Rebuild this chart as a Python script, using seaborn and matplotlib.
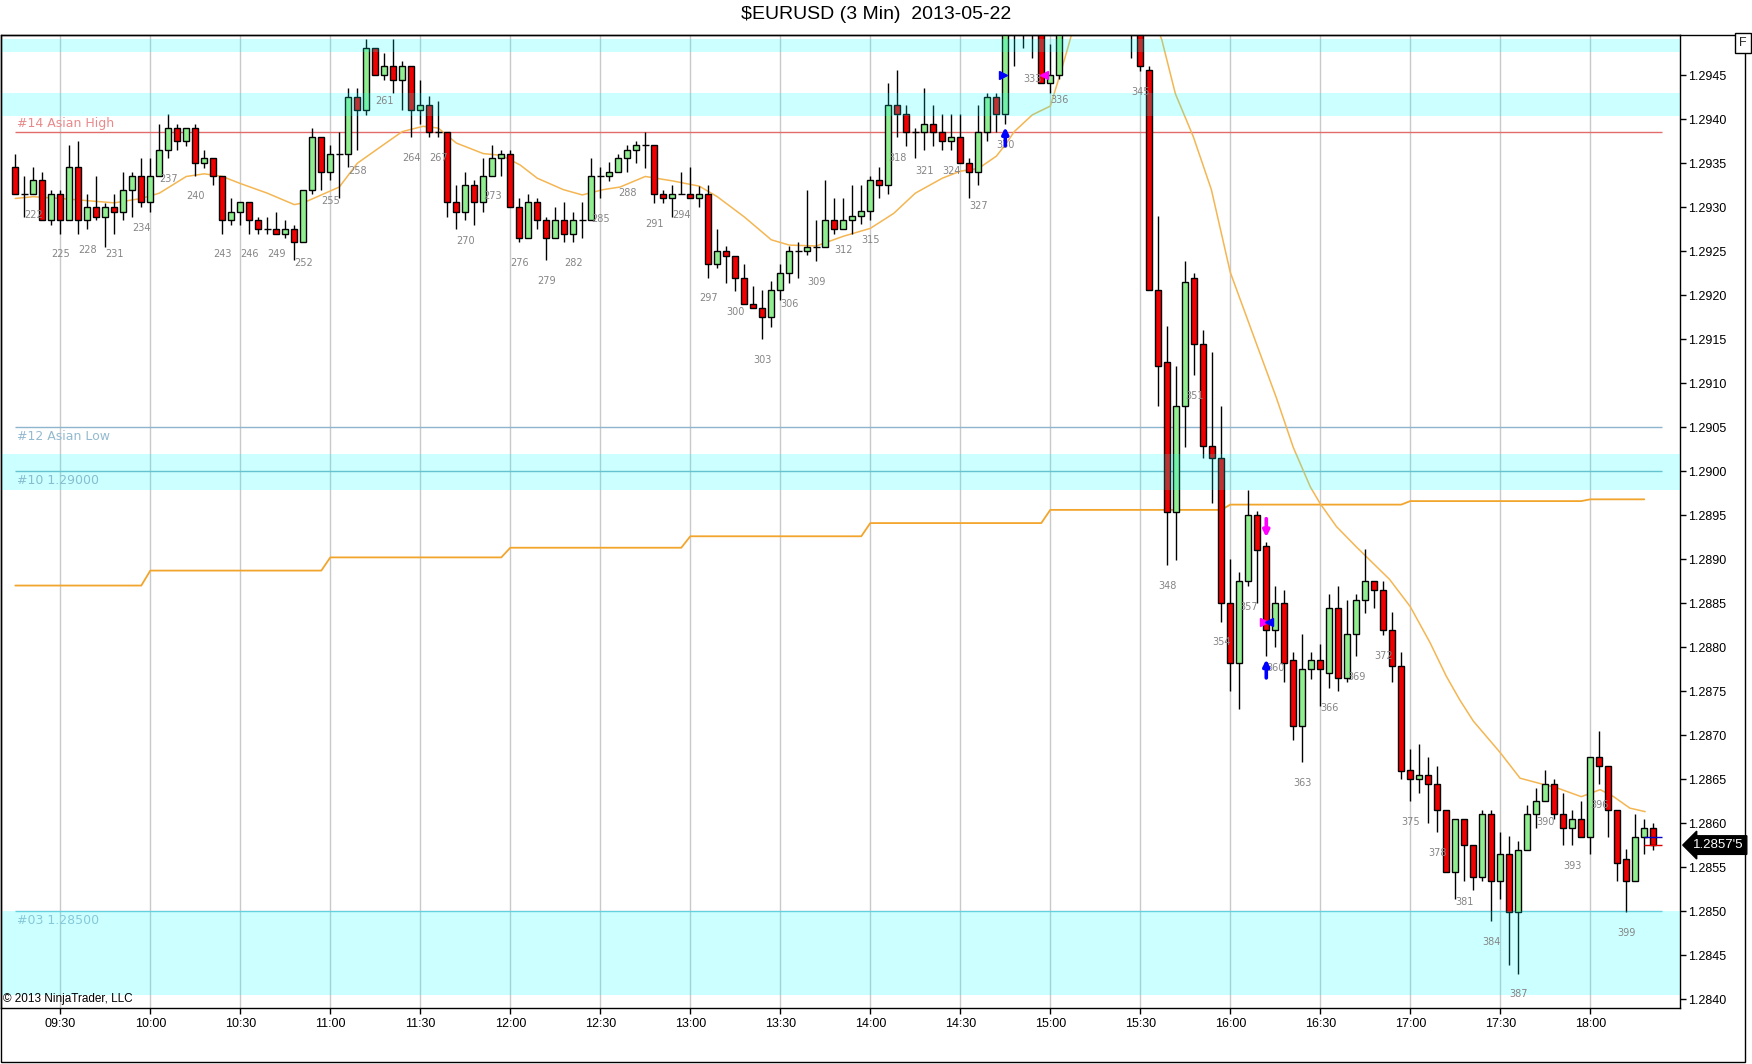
import numpy as np
import pandas as pd
import matplotlib
matplotlib.use('Agg')
import matplotlib.pyplot as plt
import matplotlib.transforms as mtransforms
from matplotlib.patches import Rectangle
import seaborn as sns

# ---- data (3 min bars, bar 225 = 09:30) ----
first_bar = 220
opens = [1.29346, 1.29315, 1.29315, 1.29331, 1.29285, 1.29315, 1.29285, 1.29346, 1.29285, 1.29300,
         1.29289, 1.29300, 1.29295, 1.29320, 1.29336, 1.29306, 1.29336, 1.29365, 1.29390, 1.29375,
         1.29390, 1.29350, 1.29356, 1.29336, 1.29285, 1.29295, 1.29306, 1.29285, 1.29275, 1.29275,
         1.29270, 1.29275, 1.29260, 1.29320, 1.29380, 1.29340, 1.29360, 1.29360, 1.29425, 1.29411,
         1.29481, 1.29450, 1.29461, 1.29445, 1.29461, 1.29411, 1.29416, 1.29385, 1.29385, 1.29306,
         1.29295, 1.29325, 1.29306, 1.29336, 1.29356, 1.29360, 1.29300, 1.29265, 1.29306, 1.29285,
         1.29265, 1.29285, 1.29270, 1.29285, 1.29285, 1.29336, 1.29336, 1.29340, 1.29356, 1.29365,
         1.29371, 1.29371, 1.29315, 1.29310, 1.29315, 1.29315, 1.29310, 1.29315, 1.29235, 1.29250,
         1.29245, 1.29220, 1.29190, 1.29185, 1.29175, 1.29206, 1.29225, 1.29250, 1.29250, 1.29255,
         1.29255, 1.29286, 1.29275, 1.29286, 1.29290, 1.29296, 1.29331, 1.29325, 1.29416, 1.29406,
         1.29385, 1.29385, 1.29395, 1.29385, 1.29375, 1.29380, 1.29350, 1.29340, 1.29385, 1.29425,
         1.29406, 1.29520, 1.29545, 1.29497, 1.29540, 1.29441, 1.29450, 1.29540, 1.29580, 1.29600,
         1.29590, 1.29570, 1.29560, 1.29550, 1.29530, 1.29510, 1.29456, 1.29206, 1.29124, 1.28954,
         1.29074, 1.29220, 1.29145, 1.29029, 1.29015, 1.28850, 1.28782, 1.28875, 1.28950, 1.28915,
         1.28820, 1.28850, 1.28785, 1.28710, 1.28775, 1.28785, 1.28771, 1.28844, 1.28765, 1.28815,
         1.28854, 1.28875, 1.28865, 1.28819, 1.28779, 1.28660, 1.28650, 1.28655, 1.28644, 1.28615,
         1.28544, 1.28605, 1.28575, 1.28539, 1.28610, 1.28534, 1.28565, 1.28499, 1.28569, 1.28610,
         1.28625, 1.28644, 1.28610, 1.28594, 1.28605, 1.28584, 1.28675, 1.28665, 1.28615, 1.28559,
         1.28534, 1.28584, 1.28594]
highs = [1.29361, 1.29336, 1.29346, 1.29340, 1.29320, 1.29320, 1.29371, 1.29375, 1.29315, 1.29336,
         1.29305, 1.29315, 1.29340, 1.29340, 1.29356, 1.29356, 1.29395, 1.29406, 1.29395, 1.29390,
         1.29395, 1.29365, 1.29356, 1.29336, 1.29310, 1.29306, 1.29306, 1.29289, 1.29289, 1.29295,
         1.29285, 1.29280, 1.29320, 1.29390, 1.29380, 1.29371, 1.29386, 1.29435, 1.29435, 1.29491,
         1.29481, 1.29475, 1.29491, 1.29466, 1.29461, 1.29445, 1.29426, 1.29421, 1.29385, 1.29325,
         1.29340, 1.29331, 1.29356, 1.29371, 1.29365, 1.29365, 1.29310, 1.29315, 1.29310, 1.29289,
         1.29300, 1.29306, 1.29295, 1.29306, 1.29356, 1.29346, 1.29351, 1.29361, 1.29371, 1.29375,
         1.29385, 1.29371, 1.29320, 1.29325, 1.29340, 1.29346, 1.29324, 1.29325, 1.29275, 1.29256,
         1.29245, 1.29235, 1.29211, 1.29206, 1.29216, 1.29235, 1.29256, 1.29260, 1.29320, 1.29286,
         1.29331, 1.29310, 1.29310, 1.29325, 1.29325, 1.29335, 1.29346, 1.29441, 1.29456, 1.29416,
         1.29390, 1.29435, 1.29416, 1.29406, 1.29406, 1.29406, 1.29356, 1.29416, 1.29430, 1.29430,
         1.29540, 1.29560, 1.29575, 1.29560, 1.29550, 1.29486, 1.29560, 1.29590, 1.29620, 1.29640,
         1.29610, 1.29600, 1.29590, 1.29570, 1.29560, 1.29530, 1.29460, 1.29290, 1.29165, 1.29120,
         1.29239, 1.29225, 1.29160, 1.29135, 1.29074, 1.28900, 1.28885, 1.28979, 1.28955, 1.28920,
         1.28870, 1.28865, 1.28795, 1.28815, 1.28794, 1.28804, 1.28860, 1.28870, 1.28854, 1.28860,
         1.28911, 1.28875, 1.28875, 1.28840, 1.28794, 1.28684, 1.28690, 1.28675, 1.28665, 1.28615,
         1.28605, 1.28605, 1.28575, 1.28615, 1.28615, 1.28590, 1.28585, 1.28580, 1.28621, 1.28640,
         1.28660, 1.28650, 1.28634, 1.28615, 1.28625, 1.28675, 1.28705, 1.28665, 1.28615, 1.28570,
         1.28610, 1.28605, 1.28600]
lows = [1.29315, 1.29289, 1.29315, 1.29285, 1.29280, 1.29270, 1.29285, 1.29270, 1.29275, 1.29285,
        1.29255, 1.29270, 1.29285, 1.29289, 1.29300, 1.29295, 1.29336, 1.29356, 1.29365, 1.29370,
        1.29336, 1.29345, 1.29325, 1.29270, 1.29280, 1.29280, 1.29270, 1.29270, 1.29270, 1.29270,
        1.29265, 1.29240, 1.29260, 1.29315, 1.29320, 1.29331, 1.29310, 1.29346, 1.29365, 1.29405,
        1.29450, 1.29445, 1.29430, 1.29411, 1.29380, 1.29395, 1.29380, 1.29380, 1.29289, 1.29275,
        1.29285, 1.29280, 1.29295, 1.29336, 1.29335, 1.29300, 1.29260, 1.29265, 1.29275, 1.29240,
        1.29265, 1.29260, 1.29260, 1.29265, 1.29285, 1.29310, 1.29330, 1.29340, 1.29340, 1.29350,
        1.29345, 1.29305, 1.29305, 1.29289, 1.29315, 1.29310, 1.29300, 1.29220, 1.29231, 1.29214,
        1.29205, 1.29190, 1.29185, 1.29150, 1.29164, 1.29195, 1.29214, 1.29220, 1.29246, 1.29239,
        1.29255, 1.29270, 1.29275, 1.29270, 1.29281, 1.29286, 1.29310, 1.29315, 1.29380, 1.29370,
        1.29356, 1.29365, 1.29370, 1.29365, 1.29365, 1.29350, 1.29310, 1.29325, 1.29375, 1.29385,
        1.29395, 1.29460, 1.29481, 1.29470, 1.29441, 1.29430, 1.29446, 1.29520, 1.29560, 1.29570,
        1.29550, 1.29540, 1.29530, 1.29510, 1.29470, 1.29455, 1.29206, 1.29074, 1.28893, 1.28899,
        1.29028, 1.29109, 1.29015, 1.28964, 1.28829, 1.28750, 1.28730, 1.28869, 1.28850, 1.28790,
        1.28800, 1.28760, 1.28695, 1.28669, 1.28764, 1.28733, 1.28754, 1.28750, 1.28760, 1.28790,
        1.28839, 1.28844, 1.28814, 1.28760, 1.28650, 1.28625, 1.28634, 1.28600, 1.28590, 1.28544,
        1.28514, 1.28534, 1.28524, 1.28534, 1.28489, 1.28514, 1.28439, 1.28429, 1.28569, 1.28594,
        1.28625, 1.28605, 1.28575, 1.28575, 1.28584, 1.28565, 1.28644, 1.28584, 1.28534, 1.28499,
        1.28534, 1.28565, 1.28569]
closes = [1.29315, 1.29315, 1.29331, 1.29285, 1.29315, 1.29285, 1.29346, 1.29285, 1.29300, 1.29289,
          1.29300, 1.29295, 1.29320, 1.29336, 1.29306, 1.29336, 1.29365, 1.29390, 1.29375, 1.29390,
          1.29350, 1.29356, 1.29336, 1.29285, 1.29295, 1.29306, 1.29285, 1.29275, 1.29275, 1.29270,
          1.29275, 1.29260, 1.29320, 1.29380, 1.29340, 1.29360, 1.29360, 1.29425, 1.29411, 1.29481,
          1.29450, 1.29461, 1.29445, 1.29461, 1.29411, 1.29416, 1.29385, 1.29385, 1.29306, 1.29295,
          1.29325, 1.29306, 1.29336, 1.29356, 1.29360, 1.29300, 1.29265, 1.29306, 1.29285, 1.29265,
          1.29285, 1.29270, 1.29285, 1.29285, 1.29336, 1.29336, 1.29340, 1.29356, 1.29365, 1.29371,
          1.29371, 1.29315, 1.29310, 1.29315, 1.29315, 1.29310, 1.29315, 1.29235, 1.29250, 1.29245,
          1.29220, 1.29190, 1.29185, 1.29175, 1.29206, 1.29225, 1.29250, 1.29250, 1.29255, 1.29255,
          1.29286, 1.29275, 1.29286, 1.29290, 1.29296, 1.29331, 1.29325, 1.29416, 1.29406, 1.29385,
          1.29385, 1.29395, 1.29385, 1.29375, 1.29380, 1.29350, 1.29340, 1.29385, 1.29425, 1.29406,
          1.29520, 1.29545, 1.29497, 1.29540, 1.29441, 1.29450, 1.29540, 1.29580, 1.29600, 1.29590,
          1.29570, 1.29560, 1.29550, 1.29530, 1.29510, 1.29461, 1.29206, 1.29120, 1.28954, 1.29074,
          1.29215, 1.29145, 1.29029, 1.29015, 1.28850, 1.28782, 1.28875, 1.28950, 1.28910, 1.28820,
          1.28850, 1.28782, 1.28710, 1.28775, 1.28785, 1.28775, 1.28844, 1.28765, 1.28815, 1.28854,
          1.28875, 1.28865, 1.28819, 1.28779, 1.28659, 1.28650, 1.28655, 1.28644, 1.28615, 1.28544,
          1.28605, 1.28575, 1.28539, 1.28610, 1.28534, 1.28565, 1.28499, 1.28569, 1.28610, 1.28625,
          1.28644, 1.28610, 1.28594, 1.28605, 1.28584, 1.28675, 1.28665, 1.28615, 1.28555, 1.28534,
          1.28584, 1.28594, 1.28575]

# moving average, read at points (bar, price)
ma_bars = [220, 222, 225, 231, 234, 236, 239, 241, 243, 245, 248, 251, 252, 254, 256, 258, 260.9, 263,
           265.3, 267, 269, 272, 274, 276.1, 278, 280.9, 283, 285.3, 287.2, 290, 293, 296, 298, 301, 304,
           306, 309, 312, 315, 317.6, 320, 323, 325, 327, 329, 330, 331, 333, 335, 336, 337, 338, 339,
           340, 341, 342, 343, 344, 345, 346, 347.4, 348.9, 350.9, 352.9, 355, 357.9, 360.1, 362, 363.9,
           365, 366.8, 369, 370.5, 372.7, 375, 377.2, 379, 380.5, 382, 385, 387.2, 389.4, 391.3, 394,
           396.1, 397.6, 399.4, 401.1]
ma_vals = [1.29310, 1.29312, 1.29310, 1.29305, 1.29310, 1.29316, 1.29335, 1.29338, 1.29335, 1.29327,
           1.29316, 1.29303, 1.29305, 1.29314, 1.29323, 1.29350, 1.29371, 1.29386, 1.29392, 1.29390,
           1.29373, 1.29361, 1.29359, 1.29348, 1.29333, 1.29320, 1.29314, 1.29320, 1.29323, 1.29335,
           1.29330, 1.29324, 1.29312, 1.29289, 1.29263, 1.29257, 1.29256, 1.29267, 1.29276, 1.29293,
           1.29316, 1.29333, 1.29341, 1.29344, 1.29358, 1.29371, 1.29386, 1.29405, 1.29415, 1.29448,
           1.29483, 1.29520, 1.29550, 1.29570, 1.29580, 1.29590, 1.29590, 1.29580, 1.29560, 1.29530,
           1.29490, 1.29429, 1.29380, 1.29320, 1.29226, 1.29145, 1.29084, 1.29027, 1.28982, 1.28963,
           1.28937, 1.28914, 1.28899, 1.28877, 1.28846, 1.28805, 1.28767, 1.28740, 1.28716, 1.28680,
           1.28651, 1.28645, 1.28640, 1.28630, 1.28638, 1.28630, 1.28617, 1.28613]

# stepped orange line: level starting at bar
step_starts = [220, 235, 255, 275, 295, 315, 335, 355, 375, 395]
step_levels = [1.28870, 1.28887, 1.28902, 1.28913, 1.28926, 1.28941, 1.28956, 1.28962, 1.28966, 1.28968]
step_end = 401

# zones and levels
bands = [(1.29477, 1.29491), (1.29404, 1.29430), (1.28979, 1.29020), (1.28405, 1.28500)]
level_prices = [1.29385, 1.29050, 1.29000, 1.28500]
level_texts = ['#14 Asian High', '#12 Asian Low', '#10 1.29000', '#03 1.28500']
level_colors = ['#E26C6C', '#8DB5CD', '#7DB3C6', '#7CC6D8']
level_text_colors = ['#E88A8C', '#94BAD1', '#86BDD0', '#86C8DA']

tick_bars = [225, 235, 245, 255, 265, 275, 285, 295, 305, 315, 325, 335, 345, 355, 365, 375, 385, 395]
time_labels = ['09:30', '10:00', '10:30', '11:00', '11:30', '12:00', '12:30', '13:00', '13:30',
               '14:00', '14:30', '15:00', '15:30', '16:00', '16:30', '17:00', '17:30', '18:00']
label_bars = list(range(222, 400, 3))
last_price = 1.28575
last_price_text = "1.2857'5"


def main():
    sns.set_theme(style='white')
    plt.rcParams['font.family'] = ['Liberation Sans', 'DejaVu Sans']

    W, H = 1752, 1064
    fig = plt.figure(figsize=(W / 100, H / 100), dpi=100)
    ax = fig.add_axes([1 / W, (H - 1008) / H, 1679 / W, (1008 - 35) / H])
    ax.set_xlim(218.41, 404.97)
    ax.set_ylim(1.283898, 1.294958)

    df = pd.DataFrame({'bar': np.arange(first_bar, first_bar + len(opens)),
                       'open': opens, 'high': highs, 'low': lows, 'close': closes})

    # vertical grid every 30 min
    for b in tick_bars:
        ax.axvline(b, color='#C9C9C9', lw=1, zorder=0)

    # level lines
    for p, c in zip(level_prices, level_colors):
        ax.hlines(p, 220, 403, color=c, lw=1, zorder=2)

    # stepped line and moving average
    step_bars = list(range(first_bar, step_end + 1))
    step_vals = [step_levels[np.searchsorted(step_starts, b, side='right') - 1] for b in step_bars]
    sns.lineplot(x=step_bars, y=step_vals, ax=ax, color='#F2A52C', lw=1.3, zorder=2)
    sns.lineplot(x=ma_bars, y=ma_vals, ax=ax, color='#F4B652', lw=1.1, sort=False,
                 estimator=None, zorder=2)

    # candles
    ax.vlines(df['bar'], df['low'], df['high'], color='black', lw=1, zorder=3)
    body_lo = np.minimum(df['open'], df['close'])
    body_h = (df['close'] - df['open']).abs()
    colors = np.where(df['close'] >= df['open'], '#90EE90', '#F00000')
    solid = body_h > 0
    ax.bar(df['bar'][solid], body_h[solid], bottom=body_lo[solid], width=0.66,
           color=colors[solid], edgecolor='black', linewidth=1, zorder=4)
    doji = ~solid
    ax.hlines(df['close'][doji], df['bar'][doji] - 0.36, df['bar'][doji] + 0.36,
              color='black', lw=1, zorder=4)

    # translucent zones on top
    for lo, hi in bands:
        ax.axhspan(lo, hi, color='#00FFFF', alpha=0.2, lw=0, zorder=5)

    # level texts
    for p, t, c in zip(level_prices, level_texts, level_text_colors):
        if t.startswith('#14'):
            ax.annotate(t, xy=(220.2, p), xytext=(0, 2), textcoords='offset points',
                        ha='left', va='bottom', color=c, fontsize=9, family='DejaVu Sans', zorder=6)
        else:
            ax.annotate(t, xy=(220.2, p), xytext=(0, -2), textcoords='offset points',
                        ha='left', va='top', color=c, fontsize=9, family='DejaVu Sans', zorder=6)

    # bar numbers under the lows
    low_of = dict(zip(df['bar'], df['low']))
    for b in label_bars:
        ax.annotate(str(b), xy=(b, low_of[b]), xytext=(0, -15), textcoords='offset points',
                    ha='center', va='center', fontsize=7, color='#858585',
                    family='DejaVu Sans', annotation_clip=True, zorder=6)

    # trade markers
    arrow = dict(arrowstyle='-|>', lw=2.6, mutation_scale=9, shrinkA=0, shrinkB=0)
    ax.annotate('', xy=(330, 1.29391), xytext=(330, 1.29370),
                arrowprops=dict(arrow, color='#0000FF'), zorder=7)
    ax.annotate('', xy=(359, 1.28786), xytext=(359, 1.28765),
                arrowprops=dict(arrow, color='#0000FF'), zorder=7)
    ax.annotate('', xy=(359, 1.28925), xytext=(359, 1.28946),
                arrowprops=dict(arrow, color='#FF00FF'), zorder=7)
    ax.plot([329.7], [1.29450], marker='>', ms=6, color='#0000FF', ls='none', zorder=7)
    ax.plot([334.3], [1.29450], marker='<', ms=6, color='#FF00FF', ls='none', zorder=7)
    ax.plot([358.7], [1.28829], marker='>', ms=6, color='#FF00FF', ls='none', zorder=7)
    ax.plot([359.3], [1.28829], marker='<', ms=6, color='#0000FF', ls='none', zorder=7)
    ax.hlines(1.28584, 401, 403, color='#0000CC', lw=1, zorder=7)
    ax.hlines(1.28575, 401, 403, color='#E00000', lw=1, zorder=7)

    # axes styling
    ax.set_xticks(tick_bars)
    ax.set_xticklabels(time_labels)
    price_ticks = np.round(np.arange(1.2840, 1.29451, 0.0005), 4)
    ax.set_yticks(price_ticks)
    ax.set_yticklabels(['%.4f' % p for p in price_ticks])
    ax.yaxis.tick_right()
    ax.tick_params(axis='y', right=True, left=False, direction='out', length=4, width=1,
                   pad=2, labelsize=9, colors='black')
    ax.tick_params(axis='x', bottom=True, direction='out', length=4, width=1,
                   pad=3, labelsize=9, colors='black')
    ax.set_xlabel('')
    ax.set_ylabel('')
    for s in ax.spines.values():
        s.set_color('black')
        s.set_linewidth(1)
        s.set_visible(True)

    ax.text(2 / 1679, 0.0096, '\u00a9 2013 NinjaTrader, LLC', transform=ax.transAxes,
            ha='left', va='center', fontsize=8.5, color='black', zorder=8)

    trans = mtransforms.blended_transform_factory(ax.transAxes, ax.transData)
    ax.text(1 + 13 / 1679, last_price, last_price_text, transform=trans, ha='left', va='center',
            color='white', fontsize=9.5, clip_on=False, zorder=9,
            bbox=dict(boxstyle='larrow,pad=0.25', fc='black', ec='black'))

    fig.text(0.5, 1 - 14.5 / H, '$EURUSD (3 Min)  2013-05-22', ha='center', va='center',
             fontsize=14, color='black')
    fig.text(1743 / W, 1 - 43 / H, 'F', ha='center', va='center', fontsize=9,
             bbox=dict(boxstyle='square,pad=0.3', fc='white', ec='black', lw=1))
    fig.add_artist(Rectangle((1 / W, 2 / H), 1744 / W, (1062 - 35) / H, fill=False,
                             ec='black', lw=1, transform=fig.transFigure))

    fig.savefig('out.png', dpi=100)
    plt.close(fig)


if __name__ == '__main__':
    main()
